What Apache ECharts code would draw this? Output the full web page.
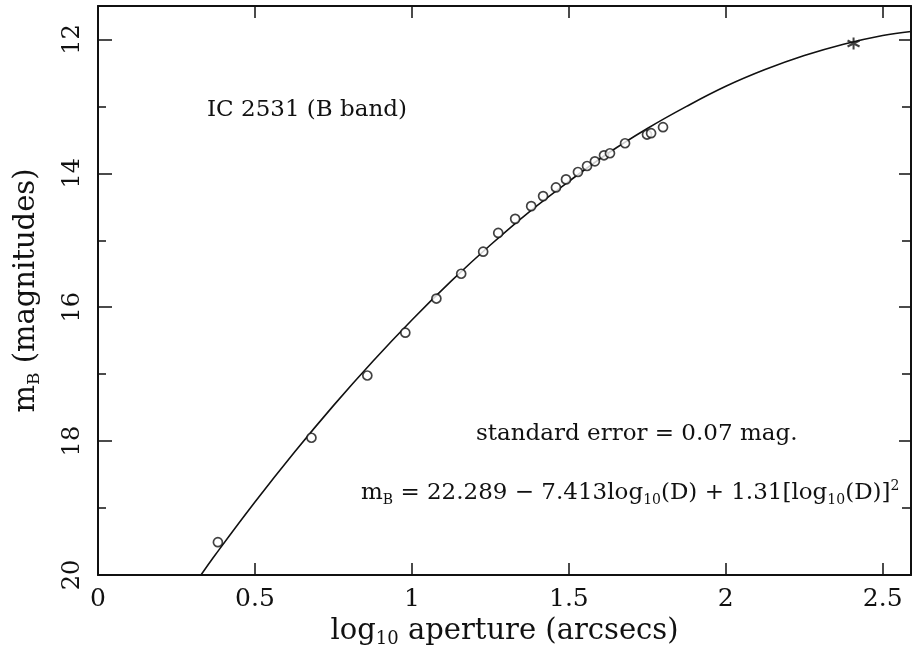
<!DOCTYPE html>
<html><head><meta charset="utf-8">
<script src="https://cdn.jsdelivr.net/npm/echarts@6/dist/echarts.min.js"></script>
<style>html,body{margin:0;padding:0;background:#fff}#c{width:914px;height:663px}</style>
</head><body><div id="c"></div>
<script>
// measured points (log10 aperture, m_B)
const obsX = [0.382, 0.680, 0.858, 0.979, 1.078, 1.157, 1.227, 1.275, 1.329, 1.380, 1.418, 1.459, 1.491, 1.529, 1.558, 1.583, 1.612, 1.631, 1.679, 1.749, 1.762, 1.800];
const obsY = [19.51, 17.95, 17.02, 16.38, 15.87, 15.50, 15.17, 14.89, 14.68, 14.49, 14.34, 14.21, 14.09, 13.98, 13.89, 13.82, 13.73, 13.70, 13.55, 13.42, 13.40, 13.31];
// star point
const starX = [2.407];
const starY = [12.06];
// fitted curve
const fitX = [0.328, 0.375, 0.5, 0.625, 0.75, 0.875, 1.0, 1.125, 1.25, 1.375, 1.5, 1.625, 1.75, 1.875, 2.0, 2.125, 2.25, 2.375, 2.5, 2.59];
const fitY = [20.0, 19.69, 18.91, 18.17, 17.47, 16.81, 16.19, 15.61, 15.07, 14.57, 14.12, 13.70, 13.33, 13.00, 12.70, 12.45, 12.24, 12.07, 11.94, 11.88];
// axis ranges / labels
const xMin = 0, xMax = 2.59, xStep = 0.5;
const yMin = 11.5, yMax = 20, yStep = 2, yMinorStep = 1;
const yLabelValues = [12, 14, 16, 18, 20];
const xLabelValues = [0, 0.5, 1, 1.5, 2, 2.5];
const noteTitle = 'IC 2531 (B band)';
const noteError = 'standard error = 0.07 mag.';

const FONT = '"DejaVu Serif", serif';
const INK = '#111';
const zip = (a, b) => a.map((v, i) => [v, b[i]]);

const chart = echarts.init(document.getElementById('c'), null, {renderer: 'canvas'});
const lineStyle = {color: INK, width: 2};
const baseY = {type: 'value', min: yMin, max: yMax, inverse: true, splitNumber: 4, splitLine: {show: false}};
const baseX = {type: 'value', min: xMin, max: xMax, minInterval: xStep, maxInterval: xStep, splitNumber: 5, splitLine: {show: false}};

chart.setOption({
  animation: false,
  backgroundColor: '#fff',
  grid: {left: 98, right: 2, top: 6, bottom: 88},
  xAxis: [
    Object.assign({}, baseX, {
      position: 'bottom',
      axisLine: {lineStyle},
      axisTick: {inside: true, length: 12, lineStyle: {color: INK, width: 1.5}},
      axisLabel: {margin: 12, fontFamily: FONT, fontSize: 25, color: INK,
        formatter: v => xLabelValues.some(t => Math.abs(t - v) < 1e-6) ? String(v) : ''},
      name: '{n|log}{s|10}{n| aperture (arcsecs)}',
      nameLocation: 'middle', nameGap: 38,
      nameTextStyle: {rich: {
        n: {fontFamily: FONT, fontSize: 29, color: INK, lineHeight: 34},
        s: {fontFamily: FONT, fontSize: 18, color: INK, lineHeight: 18, verticalAlign: 'bottom'}
      }}
    }),
    Object.assign({}, baseX, {
      position: 'top',
      axisLine: {lineStyle},
      axisTick: {inside: true, length: 12, lineStyle: {color: INK, width: 1.5}},
      axisLabel: {show: false}
    })
  ],
  yAxis: [
    Object.assign({}, baseY, {
      position: 'left', minInterval: yStep, maxInterval: yStep,
      axisLine: {lineStyle},
      axisTick: {inside: true, length: 14, lineStyle: {color: INK, width: 1.5}},
      axisLabel: {rotate: 90, margin: 13, fontFamily: FONT, fontSize: 24, color: INK,
        formatter: v => yLabelValues.indexOf(v) >= 0 ? String(v) : ''},
      name: '{n|m}{s|B}{n| (magnitudes)}',
      nameLocation: 'middle', nameGap: 55, nameRotate: 90,
      nameTextStyle: {rich: {
        n: {fontFamily: FONT, fontSize: 29, color: INK, lineHeight: 34},
        s: {fontFamily: FONT, fontSize: 17, color: INK, lineHeight: 17, verticalAlign: 'bottom'}
      }}
    }),
    Object.assign({}, baseY, {
      position: 'left', minInterval: yMinorStep, maxInterval: yMinorStep, splitNumber: 8,
      axisLine: {show: false},
      axisTick: {inside: true, length: 8, lineStyle: {color: INK, width: 1.5}},
      axisLabel: {show: false}
    }),
    Object.assign({}, baseY, {
      position: 'right', minInterval: yStep, maxInterval: yStep,
      axisLine: {lineStyle},
      axisTick: {inside: true, length: 12, lineStyle: {color: INK, width: 1.5}},
      axisLabel: {show: false}
    }),
    Object.assign({}, baseY, {
      position: 'right', minInterval: yMinorStep, maxInterval: yMinorStep, splitNumber: 8,
      axisLine: {show: false},
      axisTick: {inside: true, length: 9, lineStyle: {color: INK, width: 1.5}},
      axisLabel: {show: false}
    })
  ],
  series: [
    {type: 'line', xAxisIndex: 0, yAxisIndex: 0, data: zip(fitX, fitY), smooth: 0.4,
     showSymbol: false, lineStyle: {color: INK, width: 1.6}, z: 2},
    {type: 'scatter', xAxisIndex: 0, yAxisIndex: 0, data: zip(obsX, obsY), symbol: 'circle', symbolSize: 9,
     itemStyle: {color: '#fff', borderColor: INK, borderWidth: 1.7}, z: 3},
    {type: 'scatter', xAxisIndex: 0, yAxisIndex: 0, data: zip(starX, starY),
     symbol: 'path://M0,-10L0,10M-8.66,-5L8.66,5M-8.66,5L8.66,-5', symbolSize: 12,
     itemStyle: {color: 'none', borderColor: INK, borderWidth: 2}, z: 3}
  ],
  graphic: [
    {type: 'text', left: 207, top: 99, style: {text: noteTitle, font: '23px ' + FONT, fill: INK}},
    {type: 'text', left: 476, top: 423, style: {text: noteError, font: '23px ' + FONT, fill: INK}},
    {type: 'text', left: 361, top: 479, style: {
      text: '{n|m}{s|B}{n| = 22.289 − 7.413log}{s|10}{n|(D) + 1.31[log}{s|10}{n|(D)]}{p|2}',
      rich: {
        n: {fontFamily: FONT, fontSize: 23, fill: INK, color: INK, lineHeight: 28},
        s: {fontFamily: FONT, fontSize: 14, fill: INK, color: INK, lineHeight: 14, verticalAlign: 'bottom'},
        p: {fontFamily: FONT, fontSize: 14, fill: INK, color: INK, lineHeight: 14, verticalAlign: 'top'}
      }
    }}
  ]
});
</script></body></html>
